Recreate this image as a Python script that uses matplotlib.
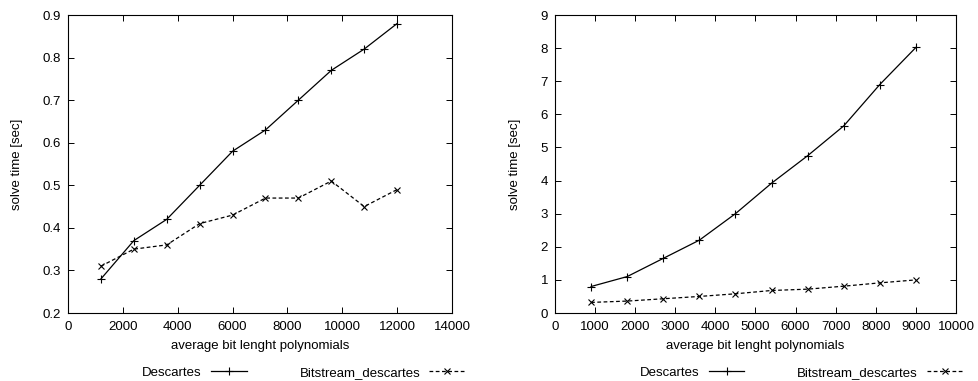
import matplotlib
matplotlib.use("Agg")
import matplotlib.pyplot as plt

plt.rcParams['font.family'] = ['Liberation Sans', 'DejaVu Sans']
plt.rcParams['font.size'] = 9.5

x_left = [1200, 2400, 3600, 4800, 6000, 7200, 8400, 9600, 10800, 12000]
descartes_left = [0.28, 0.37, 0.42, 0.50, 0.58, 0.63, 0.70, 0.77, 0.82, 0.88]
bitstream_left = [0.31, 0.35, 0.36, 0.41, 0.43, 0.47, 0.47, 0.51, 0.45, 0.49]

x_right = [900, 1800, 2700, 3600, 4500, 5400, 6300, 7200, 8100, 9000]
descartes_right = [0.80, 1.10, 1.65, 2.20, 3.00, 3.92, 4.75, 5.65, 6.90, 8.02]
bitstream_right = [0.32, 0.36, 0.43, 0.50, 0.58, 0.68, 0.72, 0.81, 0.91, 1.00]

xlabel = "average bit lenght polynomials"
ylabel = "solve time [sec]"
labels = ["Descartes", "Bitstream_descartes"]

fig = plt.figure(figsize=(9.79, 3.81), dpi=100)
W, H = 979, 381
axL = fig.add_axes([68 / W, 1 - 313 / H, (452 - 68) / W, (313 - 15) / H])
axR = fig.add_axes([555 / W, 1 - 313 / H, (956 - 555) / W, (313 - 15) / H])

def draw(ax, x, d, b, xlim, xticks, ylim, yticks, yfmt, legx):
    ax.plot(x, d, color='black', lw=0.9, marker='+', ms=6, mew=0.8, label=labels[0])
    ax.plot(x, b, color='black', lw=0.9, ls=(0, (3, 2)), marker='x', ms=4.5, mew=0.8, label=labels[1])
    ax.set_xlim(*xlim)
    ax.set_ylim(*ylim)
    ax.set_xticks(xticks)
    ax.set_yticks(yticks)
    ax.set_yticklabels([yfmt(v) for v in yticks])
    ax.tick_params(direction='in', top=True, right=True, length=4, width=0.7)
    ax.tick_params(axis='x', pad=6)
    ax.tick_params(axis='y', pad=5)
    for s in ax.spines.values():
        s.set_linewidth(0.8)
    ax.set_xlabel(xlabel, labelpad=5)
    ax.set_ylabel(ylabel, labelpad=14)
    leg = ax.legend(loc='upper right', bbox_to_anchor=(legx, -0.18), ncol=2, frameon=False,
                    markerfirst=False, numpoints=1, handlelength=2.7, columnspacing=4.0,
                    handletextpad=0.7, borderaxespad=0, borderpad=0)
    return leg

draw(axL, x_left, descartes_left, bitstream_left, (0, 14000),
     list(range(0, 14001, 2000)), (0.2, 0.9), [0.2, 0.3, 0.4, 0.5, 0.6, 0.7, 0.8, 0.9],
     lambda v: f"{v:.1f}", 1.034)
draw(axR, x_right, descartes_right, bitstream_right, (0, 10000),
     list(range(0, 10001, 1000)), (0, 9), list(range(0, 10)),
     lambda v: f"{v}", 1.017)

fig.savefig("out.png", dpi=100)
